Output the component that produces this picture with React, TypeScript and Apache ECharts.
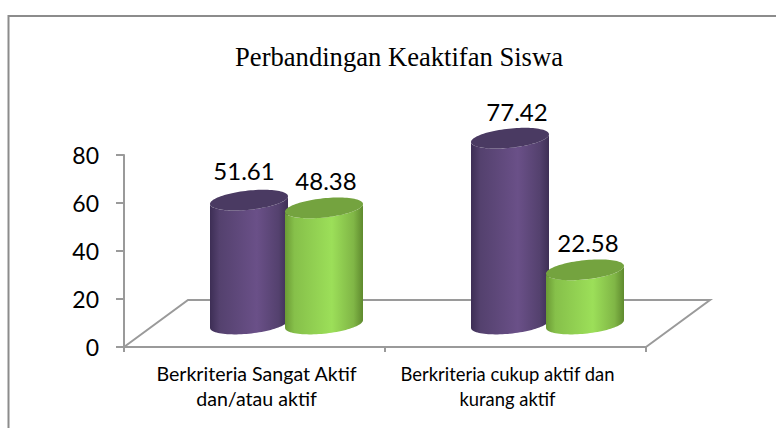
import React, { useEffect, useRef } from "react";
import * as echarts from "echarts";

const categories = ["Berkriteria Sangat Aktif\ndan/atau aktif", "Berkriteria cukup aktif dan\nkurang aktif"];
const seriesA = [51.61, 77.42];
const seriesB = [48.38, 22.58];
const yTicks = { min: 0, max: 80, interval: 20 };
const titleText = "Perbandingan Keaktifan Siswa";

const purple = { stops: ["#3d2e55", "#54416e", "#6a5088", "#54416e", "#3e2f55"], cap: "#4a3a62" };
const green = { stops: ["#6b9a35", "#86c04a", "#9cdf59", "#80b646", "#5f8a2e"], cap: "#74a33f" };

const DEPTH_X = 32;
const DEPTH_Y = -23;
const GRID = { left: 124, top: 155, width: 522, height: 192 };
const RX = 39.2;
const RY = 9.6;
const TILT = (-6 * Math.PI) / 180;
const labelDxA = [-5, 7];
const labelDxB = [2, 3];
const labelDyA = [-30, -27];
const labelDyB = [-27, -27];

const tiltPoint = (cx: number, cy: number, t: number) => [
  cx + RX * Math.cos(t) * Math.cos(TILT) - RY * Math.sin(t) * Math.sin(TILT),
  cy + RX * Math.cos(t) * Math.sin(TILT) + RY * Math.sin(t) * Math.cos(TILT),
];
const T0 = Math.atan2(-RY * Math.sin(TILT), RX * Math.cos(TILT));

function arc(cx: number, cy: number, from: number, to: number, n = 48) {
  const pts: number[][] = [];
  for (let i = 0; i <= n; i++) pts.push(tiltPoint(cx, cy, from + ((to - from) * i) / n));
  return pts;
}

function makeCylinder(colors: typeof purple, sign: number) {
  return (_params: any, api: any) => {
    const cat = api.value(0);
    const val = api.value(1);
    const top = api.coord([cat, val]);
    const base = api.coord([cat, 0]);
    const cx = top[0] + DEPTH_X + sign * 37.5;
    const topY = top[1] + DEPTH_Y;
    const botY = base[1] + DEPTH_Y;
    const offsets = [0, 0.12, 0.6, 0.88, 1];
    const grad = new echarts.graphic.LinearGradient(
      0, 0, 1, 0,
      offsets.map((offset, i) => ({ offset, color: colors.stops[i] }))
    );
    const sidePts = [...arc(cx, botY, T0, T0 + Math.PI), ...arc(cx, topY, T0 + Math.PI, T0)];
    const capPts = arc(cx, topY, 0, Math.PI * 2, 96);
    return {
      type: "group",
      children: [
        { type: "polygon", shape: { points: sidePts }, style: { fill: grad } },
        { type: "polygon", shape: { points: capPts }, style: { fill: colors.cap } },
      ],
    };
  };
}

function makeLabels(values: number[], sign: number, name: string, dx: number[], dy: number[]) {
  return {
    type: "custom",
    name,
    z: 5,
    silent: true,
    data: values.map((v, i) => [i, v]),
    renderItem: (params: any, api: any) => {
      const top = api.coord([api.value(0), api.value(1)]);
      const i = params.dataIndex;
      return {
        type: "text",
        x: top[0] + DEPTH_X + sign * 37.5 + dx[i],
        y: top[1] + DEPTH_Y + dy[i],
        style: { text: api.value(1).toFixed(2), fill: "#000", font: "24px Lato", align: "center", verticalAlign: "middle" },
      };
    },
  };
}

export default function App() {
  const ref = useRef<HTMLDivElement>(null);
  useEffect(() => {
    const chart = echarts.init(ref.current!, undefined, { renderer: "svg" });
    const bl = [GRID.left, GRID.top + GRID.height];
    const br = [GRID.left + GRID.width, GRID.top + GRID.height];
    const line = "#9a9a9a";
    const catRich = { fontFamily: "Lato", color: "#000", lineHeight: 25 };
    chart.setOption({
      animation: false,
      backgroundColor: "#fff",
      title: {
        text: titleText,
        left: 394,
        top: 38,
        textAlign: "center",
        textStyle: { fontFamily: "Liberation Serif", fontSize: 26.6, fontWeight: "normal", color: "#000" },
      },
      grid: GRID,
      xAxis: {
        type: "category",
        data: categories,
        axisLine: { lineStyle: { color: line, width: 2 } },
        axisTick: { show: true, length: 5, lineStyle: { color: line, width: 2 } },
        axisLabel: {
          interval: 0,
          margin: 14,
          lineHeight: 25,
          formatter: (value: string, index: number) =>
            value.split("\n").map((l) => `{c${index}|${l}}`).join("\n"),
          rich: {
            c0: { ...catRich, fontSize: 19.6, padding: [0, 0, 0, 4] },
            c1: { ...catRich, fontSize: 18.4, padding: [0, 16, 0, 0] },
          },
        },
      },
      yAxis: {
        type: "value",
        ...yTicks,
        splitLine: { show: false },
        axisLine: { show: true, lineStyle: { color: line, width: 2 } },
        axisTick: { show: true, length: 8, lineStyle: { color: line, width: 2 } },
        axisLabel: { fontFamily: "Lato", fontSize: 23, color: "#000", margin: 25 },
      },
      graphic: [
        { type: "polyline", z: 0, shape: { points: [[8.5, 428], [8.5, 16], [776, 16]] }, style: { fill: "none", stroke: "#8c8c8c", lineWidth: 2 } },
        { type: "polyline", z: 0, shape: { points: [bl, [bl[0] + 64, bl[1] - 47], [br[0] + 64, br[1] - 47], br] }, style: { fill: "none", stroke: line, lineWidth: 2 } },
      ],
      series: [
        { type: "custom", name: "A", z: 3, data: seriesA.map((v, i) => [i, v]), renderItem: makeCylinder(purple, -1) },
        { type: "custom", name: "B", z: 4, data: seriesB.map((v, i) => [i, v]), renderItem: makeCylinder(green, 1) },
        makeLabels(seriesA, -1, "A labels", labelDxA, labelDyA),
        makeLabels(seriesB, 1, "B labels", labelDxB, labelDyB),
      ],
    });
    return () => chart.dispose();
  }, []);
  return <div ref={ref} style={{ position: "absolute", left: 0, top: 0, width: 776, height: 428 }} />;
}
